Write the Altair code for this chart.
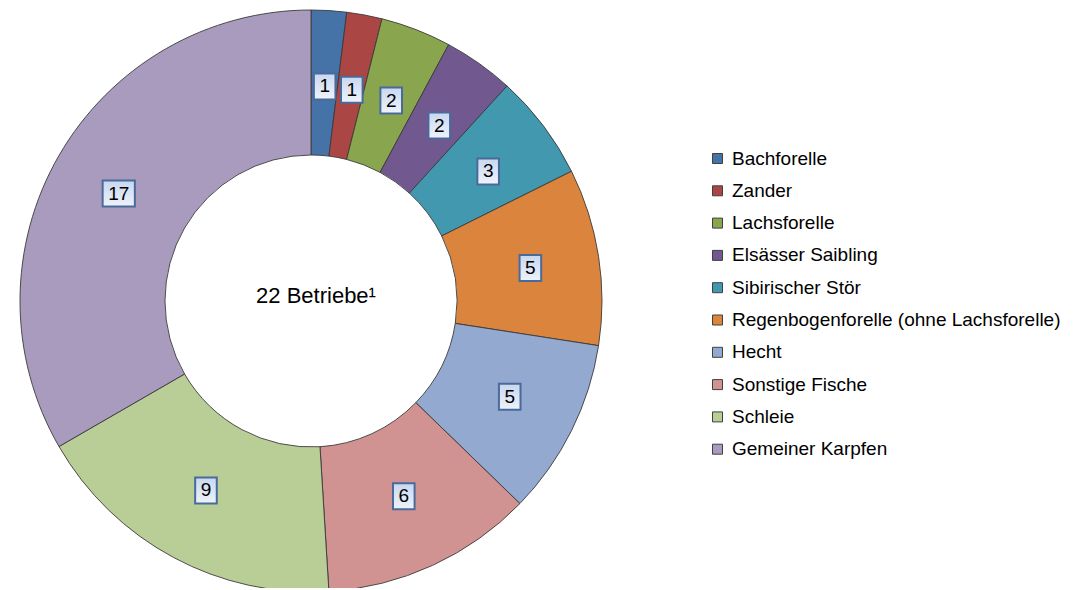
import altair as alt
import pandas as pd

species = ["Bachforelle", "Zander", "Lachsforelle", "Elsässer Saibling", "Sibirischer Stör",
           "Regenbogenforelle (ohne Lachsforelle)", "Hecht", "Sonstige Fische", "Schleie",
           "Gemeiner Karpfen"]
values = [1, 1, 2, 2, 3, 5, 5, 6, 9, 17]
colors = ["#4572A7", "#AA4643", "#89A54E", "#71588F", "#4198AF",
          "#DB843D", "#93A9CF", "#D19392", "#B9CD96", "#A99BBD"]
center_text = "22 Betriebe¹"

df = pd.DataFrame({"species": species, "value": values, "order": list(range(len(species)))})

CX, CY = 303, 293  # plot-area coordinates of donut centre
R_IN, R_OUT = 146, 291
LRX, LRY = 222, 215

base = alt.Chart(df)

arcs = base.mark_arc(innerRadius=R_IN, outerRadius=R_OUT, stroke="#3a3a3a", strokeWidth=0.9).encode(
    theta=alt.Theta("value:Q", stack=True),
    color=alt.Color("species:N", sort=species,
                    scale=alt.Scale(domain=species, range=colors),
                    legend=alt.Legend(title=None, orient="none", legendX=700, legendY=141,
                                      symbolType="square", symbolSize=100,
                                      symbolStrokeColor="#404040", symbolStrokeWidth=1,
                                      labelFont="Liberation Sans", labelFontSize=19,
                                      labelColor="#000000", labelOffset=5,
                                      rowPadding=12.3, padding=0, labelLimit=450)),
    order=alt.Order("order:Q"),
    x=alt.value(CX), y=alt.value(CY),
)

pos = base.transform_window(
    cum="sum(value)", sort=[alt.SortField("order")], frame=[None, 0]
).transform_joinaggregate(total="sum(value)").transform_calculate(
    ang="(datum.cum - datum.value/2) / datum.total * 2 * PI",
    px=f"{CX} + {LRX} * sin(datum.ang)",
    py=f"{CY} - {LRY} * cos(datum.ang)",
    lab="toString(datum.value)",
    hw="(length(toString(datum.value)) * 10.6 + 11) / 2",
    bx1="datum.px - datum.hw", bx2="datum.px + datum.hw",
    by1="datum.py - 13", by2="datum.py + 13",
)

boxes = pos.mark_rect(
    stroke="#4A6A9C", strokeWidth=2,
    color=alt.Gradient(gradient="linear",
                       stops=[alt.GradientStop(color="#c8d7ef", offset=0),
                              alt.GradientStop(color="#eef3fb", offset=1)],
                       x1=0, x2=0, y1=0, y2=1),
).encode(
    x=alt.X("bx1:Q", scale=None), x2="bx2:Q",
    y=alt.Y("by1:Q", scale=None), y2="by2:Q",
)

labels = pos.mark_text(font="Liberation Sans", fontSize=19, color="#000000",
                       baseline="middle", align="center").encode(
    x=alt.X("px:Q", scale=None), y=alt.Y("py:Q", scale=None), text="lab:N"
)

center = alt.Chart(pd.DataFrame({"t": [center_text]})).mark_text(
    font="Liberation Sans", fontSize=22, color="#000000", baseline="middle", align="center"
).encode(x=alt.value(CX + 5), y=alt.value(CY - 5), text="t:N")

chart = alt.layer(arcs, boxes, labels, center).properties(
    width=1057, height=580, padding=0, autosize=alt.AutoSizeParams(type="none")
).configure(background="white").configure_view(stroke=None)

chart.save("out.html", embed_options={"renderer": "svg", "actions": False})
